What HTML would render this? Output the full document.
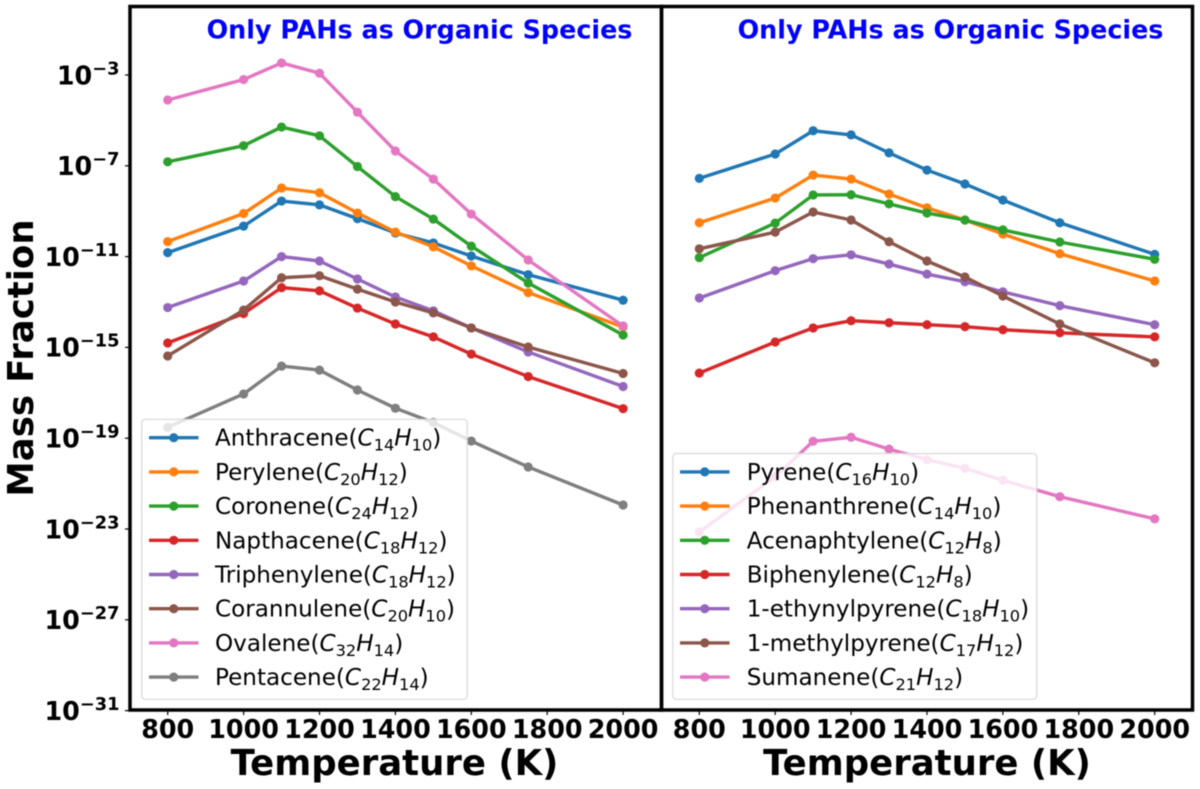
<!DOCTYPE html>
<html lang="en">
<head>
<meta charset="utf-8">
<title>Mass fraction of PAHs vs temperature</title>
<style>
  html, body { margin: 0; padding: 0; background: #fff; }
  body { width: 1200px; height: 789px; overflow: hidden; }
  svg { display: block; filter: blur(0.45px); font-family: "DejaVu Sans", "Liberation Sans", sans-serif; }
</style>
</head>
<body>
<svg id="chart" xmlns="http://www.w3.org/2000/svg" width="1200" height="789" viewBox="0 0 1200 789">
  <rect x="0" y="0" width="1200" height="789" fill="#fff"/>
  <text transform="translate(33 358) rotate(-90)" text-anchor="middle" font-weight="bold" font-size="35.5" fill="#000">Mass Fraction</text>
  <text x="394.5" y="775" text-anchor="middle" font-weight="bold" font-size="35.5" fill="#000">Temperature (K)</text>
  <text x="927" y="775" text-anchor="middle" font-weight="bold" font-size="35.5" fill="#000">Temperature (K)</text>
  <g id="panels"></g>
  <text x="419.5" y="38.5" text-anchor="middle" font-weight="bold" font-size="25.4" fill="#0000ff">Only PAHs as Organic Species</text>
  <text x="950.5" y="38.5" text-anchor="middle" font-weight="bold" font-size="25.4" fill="#0000ff">Only PAHs as Organic Species</text>
</svg>
<script>
// ---- data ----
const temperatures = [800, 1000, 1100, 1200, 1300, 1400, 1500, 1600, 1750, 2000];
const xTickValues = [800, 1000, 1200, 1400, 1600, 1800, 2000];
const yTickExponents = [-3, -7, -11, -15, -19, -23, -27, -31];

const anthracene  = [1.5e-11, 2.2e-10, 2.8e-9, 1.9e-9, 4.7e-10, 1.1e-10, 4.0e-11, 1.06e-11, 1.6e-12, 1.2e-13];
const perylene    = [4.6e-11, 7.9e-10, 1.05e-8, 6.5e-9, 8.3e-10, 1.2e-10, 2.7e-11, 3.9e-12, 2.6e-13, 7.9e-15];
const coronene    = [1.5e-7, 7.7e-7, 5.1e-6, 2.1e-6, 9.3e-8, 4.4e-9, 4.5e-10, 2.9e-11, 6.9e-13, 3.5e-15];
const napthacene  = [1.56e-15, 3.1e-14, 4.3e-13, 3.1e-13, 5.4e-14, 1.07e-14, 2.9e-15, 5.1e-16, 5.2e-17, 2.0e-18];
const triphenylene = [5.7e-14, 8.4e-13, 1.0e-11, 6.4e-12, 1.03e-12, 1.66e-13, 4.1e-14, 7.2e-15, 6.3e-16, 1.9e-17];
const corannulene = [4.2e-16, 4.4e-14, 1.17e-12, 1.44e-12, 3.7e-13, 1.0e-13, 3.3e-14, 7.2e-15, 1.04e-15, 7.1e-17];
const ovalene     = [7.9e-5, 6.3e-4, 3.4e-3, 1.2e-3, 2.3e-5, 4.5e-7, 2.6e-8, 7.5e-10, 7.1e-12, 8.8e-15];
const pentacene   = [3.0e-19, 8.9e-18, 1.5e-16, 1.0e-16, 1.33e-17, 2.1e-18, 4.9e-19, 7.5e-20, 5.4e-21, 1.14e-22];

const pyrene      = [2.8e-8, 3.3e-7, 3.5e-6, 2.3e-6, 3.7e-7, 6.5e-8, 1.58e-8, 3.1e-9, 3.1e-10, 1.26e-11];
const phenanthrene = [3.1e-10, 3.8e-9, 3.9e-8, 2.6e-8, 5.7e-9, 1.4e-9, 4.1e-10, 9.9e-11, 1.34e-11, 8.4e-13];
const acenaphtylene = [9.0e-12, 3.0e-10, 5.2e-9, 5.3e-9, 2.1e-9, 8.3e-10, 4.1e-10, 1.5e-10, 4.4e-11, 7.6e-12];
const biphenylene = [7.4e-17, 1.73e-15, 7.2e-15, 1.5e-14, 1.22e-14, 1.0e-14, 8.2e-15, 6.0e-15, 4.4e-15, 2.9e-15];
const ethynylpyrene = [1.5e-13, 2.4e-12, 8.1e-12, 1.2e-11, 4.7e-12, 1.7e-12, 7.8e-13, 2.8e-13, 6.9e-14, 1.0e-14];
const methylpyrene = [2.2e-11, 1.2e-10, 9.2e-10, 4.1e-10, 4.5e-11, 6.4e-12, 1.26e-12, 1.84e-13, 1.07e-14, 2.1e-16];
const sumanene    = [7.4e-24, 2.0e-21, 7.3e-20, 1.1e-19, 3.3e-20, 1.13e-20, 4.7e-21, 1.4e-21, 2.65e-22, 2.8e-23];

const leftNames = ['Anthracene', 'Perylene', 'Coronene', 'Napthacene', 'Triphenylene', 'Corannulene', 'Ovalene', 'Pentacene'];
const leftCarbons = ['14', '20', '24', '18', '18', '20', '32', '22'];
const leftHydrogens = ['10', '12', '12', '12', '12', '10', '14', '14'];
const leftValues = [anthracene, perylene, coronene, napthacene, triphenylene, corannulene, ovalene, pentacene];

const rightNames = ['Pyrene', 'Phenanthrene', 'Acenaphtylene', 'Biphenylene', '1-ethynylpyrene', '1-methylpyrene', 'Sumanene'];
const rightCarbons = ['16', '14', '12', '12', '18', '17', '21'];
const rightHydrogens = ['10', '10', '8', '8', '10', '12', '12'];
const rightValues = [pyrene, phenanthrene, acenaphtylene, biphenylene, ethynylpyrene, methylpyrene, sumanene];

const palette = ['#1f77b4', '#ff7f0e', '#2ca02c', '#d62728', '#9467bd', '#8c564b', '#e377c2', '#7f7f7f'];

// ---- geometry and axis functions ----
const NS = 'http://www.w3.org/2000/svg';
const panelsRoot = document.getElementById('panels');
const AXIS_TOP = 6.5, AXIS_BOTTOM = 710;
const DECADE_PX = 22.7, Y_REF_EXP = -3, Y_REF_PX = 75;
const X_PER_K = 0.3795;

function yScale(v) {
  return Y_REF_PX + (Y_REF_EXP - Math.log10(v)) * DECADE_PX;
}
function yExpScale(e) {
  return Y_REF_PX + (Y_REF_EXP - e) * DECADE_PX;
}
function xScaleFor(x800) {
  return function (t) { return x800 + (t - 800) * X_PER_K; };
}
function make(tag, parent) {
  const el = document.createElementNS(NS, tag);
  parent.appendChild(el);
  return el;
}
function kebab(s) {
  return s.toLowerCase().replace(/[^a-z0-9]+/g, '-');
}

function drawPanel(side, x0, x1, x800, names, carbons, hydrogens, values, legendBox, textX, handleX, showY) {
  const xScale = xScaleFor(x800);
  const panel = make('g', panelsRoot);
  
  

  // series
  values.forEach(function (series, i) {
    const g = make('g', panel);
    
    
    const line = make('polyline', g);
    
    
    line.setAttribute('fill', 'none');
    line.setAttribute('stroke', palette[i]);
    line.setAttribute('stroke-width', '3.4');
    line.setAttribute('stroke-linejoin', 'round');
    line.setAttribute('points', series.map(function (v, k) {
      return xScale(temperatures[k]).toFixed(2) + ',' + yScale(v).toFixed(2);
    }).join(' '));
    series.forEach(function (v, k) {
      const dot = make('circle', g);
      
      
      dot.setAttribute('cx', xScale(temperatures[k]).toFixed(2));
      dot.setAttribute('cy', yScale(v).toFixed(2));
      dot.setAttribute('r', '4.6');
      dot.setAttribute('fill', palette[i]);
    });
  });

  // legend
  const legend = make('g', panel);
  
  
  const box = make('rect', legend);
  
  
  box.setAttribute('x', legendBox[0]);
  box.setAttribute('y', legendBox[1]);
  box.setAttribute('width', legendBox[2]);
  box.setAttribute('height', legendBox[3]);
  box.setAttribute('rx', '3.5');
  box.setAttribute('fill', 'rgba(255,255,255,0.8)');
  box.setAttribute('stroke', '#d8d8d8');
  box.setAttribute('stroke-width', '1.2');

  names.forEach(function (name, i) {
    const ey = legendBox[1] + legendBox[3] - 22.2 - (names.length - 1 - i) * 34.2;
    const entry = make('g', legend);
    
    
    const h = make('line', entry);
    
    
    h.setAttribute('x1', handleX);
    h.setAttribute('x2', handleX + 49.5);
    h.setAttribute('y1', ey);
    h.setAttribute('y2', ey);
    h.setAttribute('stroke', palette[i]);
    h.setAttribute('stroke-width', '3.4');
    const m = make('circle', entry);
    
    
    m.setAttribute('cx', handleX + 24.75);
    m.setAttribute('cy', ey);
    m.setAttribute('r', '4.6');
    m.setAttribute('fill', palette[i]);
    const t = make('text', entry);
    
    
    t.setAttribute('x', textX);
    t.setAttribute('y', ey + 8);
    t.setAttribute('font-size', '23.1');
    t.setAttribute('fill', '#000');
    t.appendChild(document.createTextNode(name + '('));
    const parts = [['C', 0], [carbons[i], 1], ['H', 0], [hydrogens[i], 1]];
    let shifted = false;
    parts.forEach(function (p) {
      const s = make('tspan', t);
      s.textContent = p[0];
      if (p[1] === 1) {
        s.setAttribute('font-size', '16.2');
        s.setAttribute('dy', '5');
        shifted = true;
      } else {
        s.setAttribute('font-style', 'italic');
        if (shifted) { s.setAttribute('dy', '-5'); shifted = false; }
      }
    });
    const close = make('tspan', t);
    close.setAttribute('dy', '-5');
    close.textContent = ')';
  });

  // frame
  const frame = make('rect', panel);
  
  
  frame.setAttribute('x', x0);
  frame.setAttribute('y', AXIS_TOP);
  frame.setAttribute('width', x1 - x0);
  frame.setAttribute('height', AXIS_BOTTOM - AXIS_TOP);
  frame.setAttribute('fill', 'none');
  frame.setAttribute('stroke', '#000');
  frame.setAttribute('stroke-width', '3.5');

  // x ticks
  const xAxis = make('g', panel);
  
  
  xTickValues.forEach(function (tv) {
    const tick = make('line', xAxis);
    
    
    tick.setAttribute('x1', xScale(tv));
    tick.setAttribute('x2', xScale(tv));
    tick.setAttribute('y1', AXIS_BOTTOM + 1.5);
    tick.setAttribute('y2', AXIS_BOTTOM + 5);
    tick.setAttribute('stroke', '#000');
    tick.setAttribute('stroke-width', '1.2');
    const label = make('text', xAxis);
    
    
    label.setAttribute('x', xScale(tv));
    label.setAttribute('y', '738');
    label.setAttribute('text-anchor', 'middle');
    label.setAttribute('font-size', '25.4');
    label.setAttribute('font-weight', 'bold');
    label.setAttribute('fill', '#000');
    label.textContent = tv;
  });

  // y ticks
  if (showY) {
    const yAxis = make('g', panel);
    
    
    yTickExponents.forEach(function (e) {
      const py = yExpScale(e);
      const tick = make('line', yAxis);
      
      
      tick.setAttribute('x1', x0 - 5);
      tick.setAttribute('x2', x0 - 1.5);
      tick.setAttribute('y1', py);
      tick.setAttribute('y2', py);
      tick.setAttribute('stroke', '#000');
      tick.setAttribute('stroke-width', '1.2');
      const label = make('text', yAxis);
      
      
      label.setAttribute('x', '119.5');
      label.setAttribute('y', py + 9.3);
      label.setAttribute('text-anchor', 'end');
      label.setAttribute('font-size', '25.4');
      label.setAttribute('font-weight', 'bold');
      label.setAttribute('fill', '#000');
      label.appendChild(document.createTextNode('10'));
      const sup = make('tspan', label);
      sup.setAttribute('font-size', '17.8');
      sup.setAttribute('dy', '-10');
      sup.textContent = '\u2212' + Math.abs(e);
    });
  }
}

drawPanel('left', 130, 661.5, 167.7, leftNames, leftCarbons, leftHydrogens, leftValues,
          [141.7, 419.3, 325.5, 280], 215, 149, true);
drawPanel('right', 661.5, 1192.5, 699.3, rightNames, rightCarbons, rightHydrogens, rightValues,
          [672.8, 453.5, 364, 245.8], 746.7, 680, false);
</script>
</body>
</html>
